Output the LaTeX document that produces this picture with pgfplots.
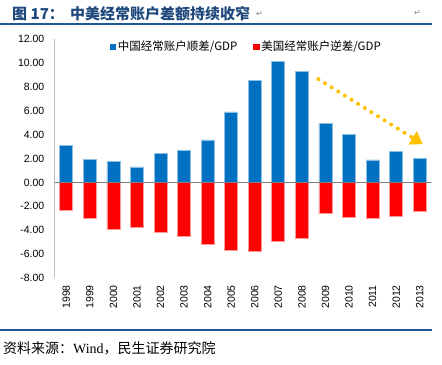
\documentclass[border=0pt]{standalone}
\usepackage{fontspec}
\setmainfont{Liberation Sans}
\newfontfamily\cjk{Noto Sans CJK SC}
\newfontfamily\serif{Liberation Serif}
\newfontfamily\dejavu{DejaVu Sans}
\usepackage{pgfplots}
\pgfplotsset{compat=1.18}
\usetikzlibrary{arrows.meta}
\definecolor{cnblue}{HTML}{0070C0}
\definecolor{usred}{HTML}{FF0000}
\definecolor{titleblue}{HTML}{1F497D}
\definecolor{rulecol}{HTML}{1F5A96}
\definecolor{arrowcol}{HTML}{FFC000}
\begin{document}
\begin{tikzpicture}
\useasboundingbox (0,0) rectangle (442bp,365bp);
\node[anchor=west, inner sep=0, text=titleblue, font=\cjk\bfseries\fontsize{15bp}{18bp}\selectfont] at (12bp,351.3bp) {图 17：};
\node[anchor=west, inner sep=0, text=titleblue, font=\cjk\bfseries\fontsize{15bp}{18bp}\selectfont] at (70bp,351.3bp) {中美经常账户差额持续收窄};
\node[anchor=west, inner sep=0, text=gray, font=\dejavu\fontsize{8bp}{9bp}\selectfont] at (256bp,351bp) {↵};
\node[anchor=west, inner sep=0, text=gray, font=\dejavu\fontsize{8bp}{9bp}\selectfont] at (414bp,352bp) {↵};
\draw[rulecol, line width=1.2bp] (0,341bp) -- (432bp,341bp);
\draw[rulecol, line width=1.2bp] (0,35bp) -- (432bp,35bp);
\node[anchor=west, inner sep=0, font=\cjk\fontsize{14bp}{16bp}\selectfont] at (3bp,17bp) {资料来源：{\serif Wind}，民生证券研究院};
\begin{axis}[
  at={(54.5bp,87bp)}, anchor=south west,
  width=377bp, height=239bp, scale only axis,
  xmin=-0.5, xmax=15.5, ymin=-8, ymax=12,
  axis lines=left, axis line style={-},
  x axis line style={draw=none},
  y axis line style={draw=black!25, line width=1.4bp},
  major tick length=0pt,
  xtick={0,...,15},
  xticklabels={1998,1999,2000,2001,2002,2003,2004,2005,2006,2007,2008,2009,2010,2011,2012,2013},
  xticklabel style={rotate=90, anchor=east, inner xsep=7bp, inner ysep=0pt, font=\fontsize{10.5bp}{12bp}\selectfont},
  ytick={-8,-6,...,12},
  yticklabel={\pgfmathprintnumber[fixed,fixed zerofill,precision=2,assume math mode=true]{\tick}},
  yticklabel style={anchor=east, inner xsep=0pt, xshift=-10bp, font=\fontsize{10.5bp}{12bp}\selectfont},
  legend style={at={(0.509,0.968)}, anchor=center, draw=none, fill=none, inner sep=0pt,
    font=\cjk\fontsize{11.5bp}{13bp}\selectfont,
    /tikz/every even column/.append style={column sep=14bp}},
  legend columns=2, legend cell align=left,
]
\addplot[ybar, bar width=13bp, bar shift=0pt, fill=cnblue, draw=cnblue!45, line width=0.7bp,
  legend image code/.code={\fill[cnblue] (0bp,-2.6bp) rectangle (5.2bp,2.6bp);}]
  coordinates {(0,3.08) (1,1.94) (2,1.74) (3,1.3) (4,2.44) (5,2.64) (6,3.55) (7,5.9) (8,8.55) (9,10.1) (10,9.32) (11,4.9) (12,3.98) (13,1.88) (14,2.62) (15,2.0)};
\addlegendentry{中国经常账户顺差/GDP}
\addplot[ybar, bar width=13bp, bar shift=0pt, fill=usred, draw=usred!40, line width=0.7bp,
  legend image code/.code={\fill[usred] (0bp,-2.6bp) rectangle (5.2bp,2.6bp);}]
  coordinates {(0,-2.34) (1,-3.05) (2,-3.95) (3,-3.75) (4,-4.17) (5,-4.52) (6,-5.15) (7,-5.7) (8,-5.77) (9,-4.97) (10,-4.68) (11,-2.63) (12,-2.96) (13,-2.97) (14,-2.82) (15,-2.4)};
\addlegendentry{美国经常账户逆差/GDP}
\draw[gray, line width=1bp] (axis cs:-0.5,0) -- (axis cs:15.5,0);
\draw[arrowcol, line width=4bp, line cap=round, dash pattern=on 0bp off 7.8bp, -{Triangle[length=12bp,width=15bp]}] (axis cs:10.7,8.64) -- (axis cs:15.13,3.2);
\end{axis}
\end{tikzpicture}
\end{document}
